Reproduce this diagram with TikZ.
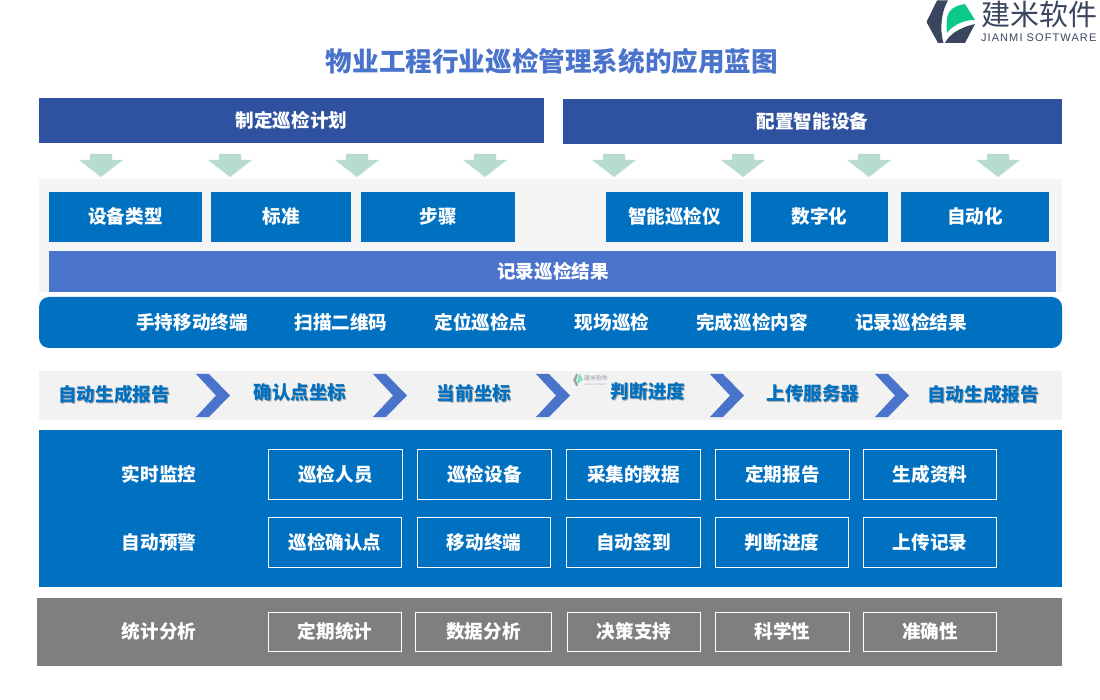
\documentclass[tikz,border=0pt]{standalone}
\usepackage{fontspec}
\setmainfont{Noto Sans CJK SC}
\newfontfamily\latinfont{Liberation Sans}
\definecolor{barblue}{HTML}{2F52A0}
\definecolor{mainblue}{HTML}{0070C0}
\definecolor{softblue}{HTML}{4A73CB}
\definecolor{arrowgreen}{HTML}{B7DBCF}
\definecolor{logodark}{HTML}{3A4560}
\definecolor{logogreen}{HTML}{0CC98A}
\definecolor{panelgray}{HTML}{7F7F7F}
\newcommand{\shadowlabel}[1]{\makebox[0pt][l]{\raisebox{-1pt}{\hspace{0.8pt}\textcolor{black!35}{#1}}}#1}
\begin{document}
\begin{tikzpicture}[x=1pt, y=-1pt,
  every node/.style={inner sep=0pt, outer sep=0pt},
  plainlabel/.style={text=white, font=\fontsize{18.6}{18.6}\selectfont\bfseries},
  outlinebox/.style={plainlabel, draw=white, line width=0.8pt, minimum height=50pt},
  flowlabel/.style={text=mainblue, font=\fontsize{18.6}{18.6}\selectfont\bfseries}]
  \useasboundingbox (0,0) rectangle (1100,700);

  % Titre
  \node[text=softblue, font=\fontsize{26.6}{26.6}\selectfont\bfseries] (title) at (552,61) {物业工程行业巡检管理系统的应用蓝图};

  % Logo
  \fill[logodark] (926.5,22) -- (937,0.5) -- (948,0.5) .. controls (942,10) and (939,28) .. (943.5,43) -- (938,43) -- cycle;
  \fill[logodark] (945,43) .. controls (949,35) and (958,28) .. (975,24) -- (965,43) -- cycle;
  \fill[logogreen] (947,33) .. controls (946,22) and (947,14) .. (950,11) .. controls (953,7) and (959,5) .. (965,4) -- (975,20) .. controls (963,20) and (953,25) .. (947,33) -- cycle;
  \node[text=logodark, font=\fontsize{29}{29}\selectfont, anchor=west] (logoname) at (981,14) {建米软件};
  \node[text=logodark, font=\latinfont\fontsize{11}{11}\selectfont\addfontfeature{LetterSpace=10}, anchor=west] (logosub) at (981,38) {JIANMI SOFTWARE};

  % Bandeaux du haut
  \fill[barblue] (39,98) rectangle (544,143);
  \node[plainlabel] (planbar) at (291.5,120.5) {制定巡检计划};
  \fill[barblue] (563,99) rectangle (1062,144);
  \node[plainlabel] (devicebar) at (812.5,121.5) {配置智能设备};

  % Fleches vertes
  \foreach \x in {101,230,357,485,614,743,869,998}
    \fill[arrowgreen] (\x-11,154) -- (\x+11,154) -- (\x+11,160) -- (\x+22,160) -- (\x,177) -- (\x-22,160) -- (\x-11,160) -- cycle;

  % Panneau gris clair
  \fill[black!4] (39,179) rectangle (1062,292);
  \foreach \xa/\xb/\name/\txt in {49/202/typeBox/设备类型, 211/351/normBox/标准, 361/515/stepBox/步骤,
      606/743/meterBox/智能巡检仪, 751/888/digitBox/数字化, 901/1049/autoBox/自动化} {
    \fill[mainblue] (\xa,192) rectangle (\xb,242);
    \node[plainlabel] (\name) at ({(\xa+\xb)/2},216.5) {\txt};
  }
  \fill[softblue] (49,251) rectangle (1056,292);
  \node[plainlabel] (recordbar) at (553,271) {记录巡检结果};

  % Bande arrondie
  \fill[mainblue, rounded corners=10pt] (39,297) rectangle (1062,348);
  \foreach \x/\name/\txt in {192/holdText/手持移动终端, 341/scanText/扫描二维码, 481/locText/定位巡检点,
      612/siteText/现场巡检, 752/doneText/完成巡检内容, 911/noteText/记录巡检结果}
    \node[plainlabel] (\name) at (\x,322) {\txt};

  % Bande des etapes
  \fill[black!5] (39,371) rectangle (1062,420);
  \foreach \x in {196,373,536,710,875}
    \fill[softblue] (\x,374) -- (\x+13,374) -- (\x+34,395.5) -- (\x+13,417) -- (\x,417) -- (\x+20,395.5) -- cycle;
  \foreach \x/\y/\name/\txt in {114/395/firstStep/自动生成报告, 300/393/pointStep/确认点坐标, 474/394/coordStep/当前坐标,
      648/392/judgeStep/判断进度, 813/394/uploadStep/上传服务器, 983/395/lastStep/自动生成报告}
    \node[flowlabel] (\name) at (\x,\y) {\shadowlabel{\txt}};

  % Petit logo
  \fill[logodark!50] (573,380) -- (576,374) -- (578,374) -- (576,380) -- (578,386) -- (576,386) -- cycle;
  \fill[logogreen!50] (577,384) -- (578,376) -- (580,374) -- (583,380) -- cycle;
  \node[text=logodark!55, font=\fontsize{6}{6}\selectfont, anchor=west] (smallname) at (584,378) {建米软件};
  \node[text=logodark!45, font=\latinfont\fontsize{2.4}{2.4}\selectfont, anchor=west] (smallsub) at (584,385) {JIANMI SOFTWARE};

  % Panneau bleu
  \fill[mainblue] (39,430) rectangle (1062,587);
  \node[plainlabel] (liveLabel) at (159,474) {实时监控};
  \node[plainlabel] (warnLabel) at (159,542) {自动预警};
  \foreach \xa/\xb/\name/\txt in {268/402/staffBox/巡检人员, 417/551/gearBox/巡检设备, 566/700/dataBox/采集的数据,
      715/849/reportBox/定期报告, 863/996/fileBox/生成资料}
    \node[outlinebox, minimum width={(\xb-\xa)*1pt}] (\name) at ({(\xa+\xb)/2+0.5},474.5) {\txt};
  \foreach \xa/\xb/\name/\txt in {268/401/confirmBox/巡检确认点, 417/550/mobileBox/移动终端, 566/700/signBox/自动签到,
      715/848/judgeBox/判断进度, 863/996/uploadBox/上传记录}
    \node[outlinebox, minimum width={(\xb-\xa)*1pt}] (\name) at ({(\xa+\xb)/2+0.5},542.5) {\txt};

  % Panneau gris
  \fill[panelgray] (37,598) rectangle (1062,666);
  \node[plainlabel] (statLabel) at (159,631) {统计分析};
  \foreach \xa/\xb/\name/\txt in {268/401/periodBox/定期统计, 415/551/analysisBox/数据分析, 567/700/decisionBox/决策支持,
      715/849/scienceBox/科学性, 863/996/accuracyBox/准确性}
    \node[outlinebox, minimum height=39pt, minimum width={(\xb-\xa)*1pt}] (\name) at ({(\xa+\xb)/2+0.5},631.5) {\txt};
\end{tikzpicture}
\end{document}
